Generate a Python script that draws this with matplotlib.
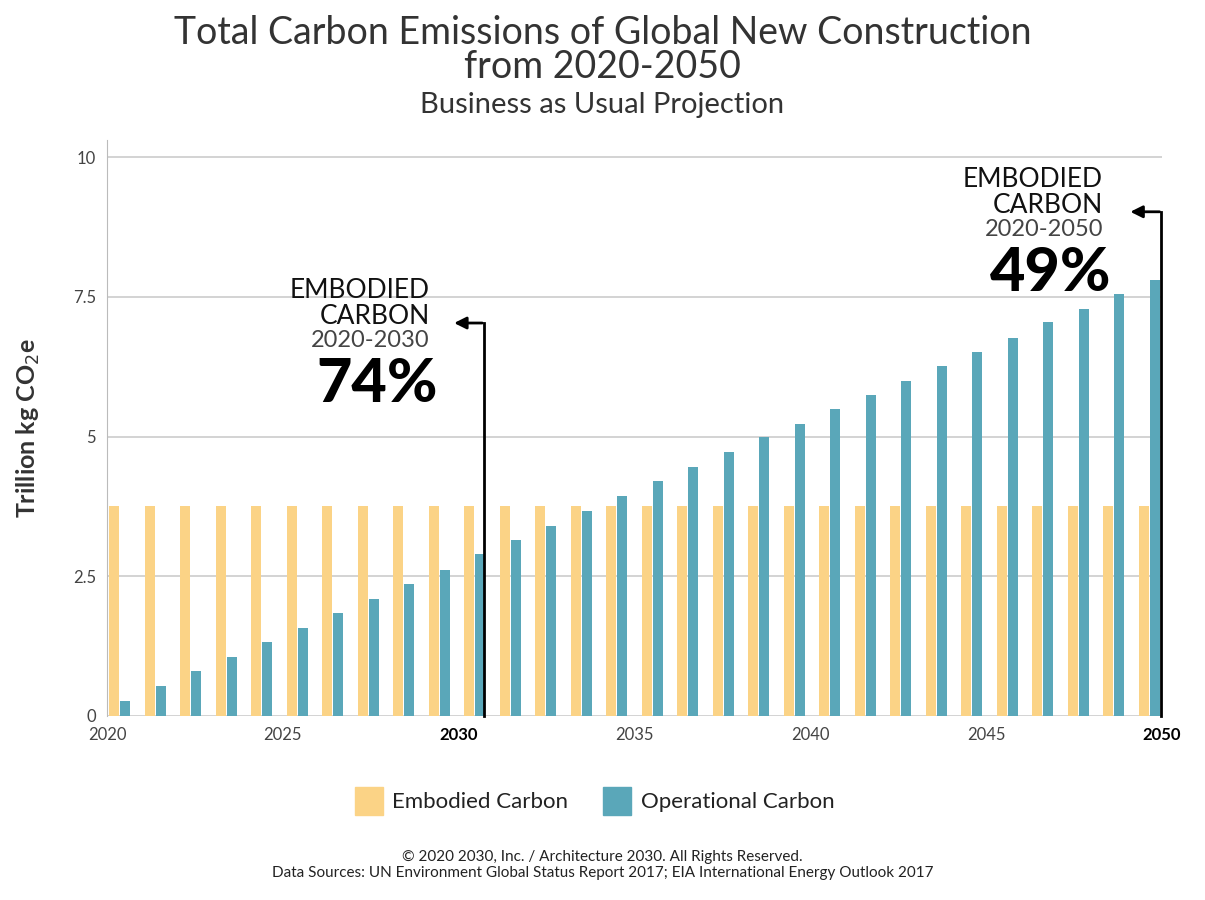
import matplotlib
matplotlib.use("Agg")
import matplotlib.pyplot as plt
import numpy as np

plt.rcParams['font.family'] = ['Lato', 'DejaVu Sans']

embodied = [3.75] * 30
operational = [0.27, 0.53, 0.80, 1.05, 1.32, 1.57, 1.84, 2.10, 2.36, 2.62,
               2.90, 3.14, 3.40, 3.66, 3.93, 4.20, 4.45, 4.72, 5.00, 5.23,
               5.50, 5.75, 6.00, 6.27, 6.52, 6.77, 7.04, 7.28, 7.55, 7.80]
tick_labels = ["2020", "2025", "2030", "2035", "2040", "2045", "2050"]
yticks = [0, 2.5, 5, 7.5, 10]
ytick_labels = ["0", "2.5", "5", "7.5", "10"]

W, H = 1205, 900
fig = plt.figure(figsize=(12.05, 9), dpi=100)
ax = fig.add_axes([107/W, 1-716/H, (1162-107)/W, (716-140)/H])

x = np.arange(len(operational))
ax.bar(x - 0.15, embodied, width=0.28, color='#fbd386', zorder=2)
ax.bar(x + 0.16, operational, width=0.28, color='#5aa7b9', zorder=2)

xl, xr = -0.35, 29.37
ax.set_xlim(xl, xr)
ymax = 10 * (716-140) / (716-157)
ax.set_ylim(0, ymax)
ax.set_yticks(yticks)
ax.set_yticklabels(ytick_labels, fontsize=12, color='#444')
ax.yaxis.grid(True, color='#cccccc', lw=1.2, zorder=0)
ax.set_xticks(np.linspace(xl, xr, 7))
ax.set_xticklabels(tick_labels, fontsize=12, color='#444')
for i in (2, 6):
    ax.get_xticklabels()[i].set_fontweight('bold')
    ax.get_xticklabels()[i].set_color('black')
ax.tick_params(length=0, pad=8)
for s in ('top', 'right', 'bottom'):
    ax.spines[s].set_visible(False)
ax.spines['left'].set_color('#bbbbbb')
ax.set_ylabel('Trillion kg CO$_2$e', fontsize=18, color='#333', labelpad=22, fontweight='bold')

def arrow(xv, ytop, xend):
    ax.plot([xv, xv], [0, ytop], color='black', lw=2, zorder=3, clip_on=False)
    ax.annotate('', xy=(xend, ytop), xytext=(xv + 0.03, ytop),
                arrowprops=dict(arrowstyle='-|>', color='black', lw=2, mutation_scale=18),
                annotation_clip=False)

arrow(10.27, 7.03, 9.35)
arrow(29.35, 9.02, 28.4)

def block(xp, ytop, years, pct):
    fig.text(xp/W, 1-ytop/H, "EMBODIED\nCARBON", ha='right', va='top', fontsize=19,
             linespacing=1.05, color='#111')
    fig.text(xp/W, 1-(ytop+52)/H, years, ha='right', va='top', fontsize=17,
             color='#444')
    fig.text((xp+8)/W, 1-(ytop+78)/H, pct, ha='right', va='top', fontsize=44,
             fontweight='black', color='black')

block(430, 278, "2020-2030", "74%")
block(1103, 167, "2020-2050", "49%")

fig.text(0.5, 1-50/H, "Total Carbon Emissions of Global New Construction\nfrom 2020-2050",
         ha='center', va='center', fontsize=27, linespacing=0.95, color='#333')
fig.text(0.5, 1-105/H, "Business as Usual Projection", ha='center', va='center',
         fontsize=21, color='#333')

fig.patches.append(plt.Rectangle((355/W, 1-815/H), 28/W, 28/H, color='#fbd386', transform=fig.transFigure))
fig.text(392/W, 1-802/H, "Embodied Carbon", va='center', fontsize=16, color='#222')
fig.patches.append(plt.Rectangle((603/W, 1-815/H), 28/W, 28/H, color='#5aa7b9', transform=fig.transFigure))
fig.text(641/W, 1-802/H, "Operational Carbon", va='center', fontsize=16, color='#222')

fig.text(0.5, 1-857/H, "© 2020 2030, Inc. / Architecture 2030. All Rights Reserved.",
         ha='center', va='center', fontsize=11, color='#222')
fig.text(0.5, 1-873/H, "Data Sources: UN Environment Global Status Report 2017; EIA International Energy Outlook 2017",
         ha='center', va='center', fontsize=11, color='#222')

fig.savefig("out.png", dpi=100)
